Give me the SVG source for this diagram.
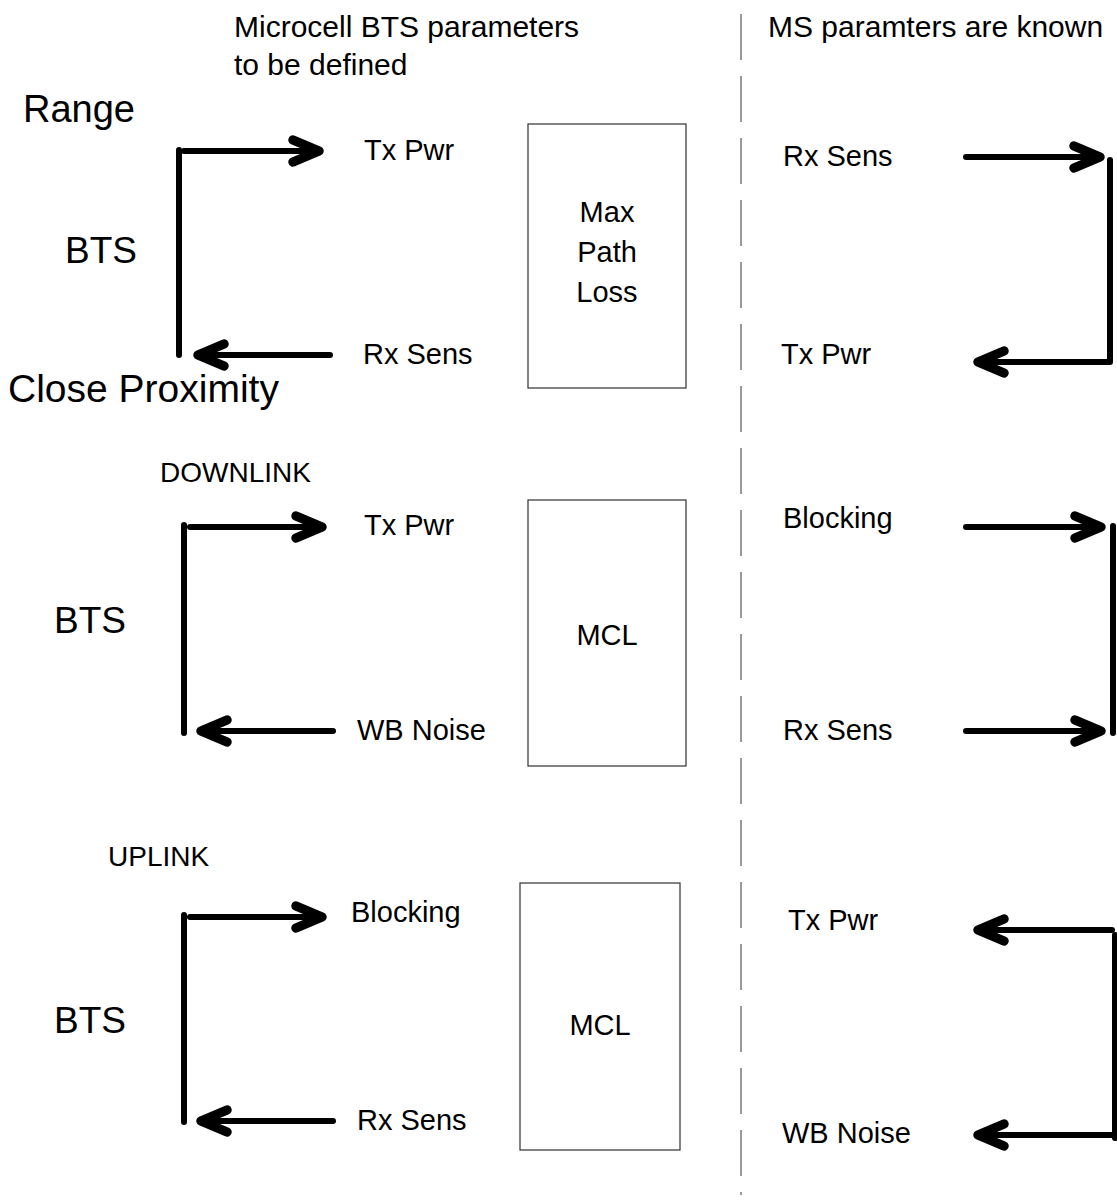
<svg xmlns="http://www.w3.org/2000/svg" width="1117" height="1200" viewBox="0 0 1117 1200">
<style>
text{font-family:"Liberation Sans",Arial,sans-serif;fill:#000}
.big{font-size:38px}
.bts{font-size:37px}
.med{font-size:29px}
.hdr{font-size:30px}
.sm{font-size:28px}
.box{fill:#fff;stroke:#404040;stroke-width:1.3}
.ln{fill:none;stroke:#000;stroke-width:6;stroke-linecap:round;stroke-linejoin:round}
.hd{fill:none;stroke:#000;stroke-width:9.5;stroke-linecap:round;stroke-linejoin:round}
.dash{fill:none;stroke:#808080;stroke-width:1.6;stroke-dasharray:46 16}
</style>
<rect width="1117" height="1200" fill="#fff"/>
<g id="headers">
<text class="hdr" x="234" y="37">Microcell BTS parameters</text>
<text class="hdr" x="234" y="75">to be defined</text>
<text class="hdr" x="768" y="37">MS paramters are known</text>
<text class="big" x="23" y="122">Range</text>
<text class="big" x="8" y="402" style="font-size:39px">Close Proximity</text>
<text class="sm" x="160" y="482">DOWNLINK</text>
<text class="sm" x="108" y="866">UPLINK</text>
</g>
<path class="dash" d="M741 14V1195"/>
<g id="bts1"><text class="bts" x="65" y="263">BTS</text></g>
<g id="bts2"><text class="bts" x="54" y="633">BTS</text></g>
<g id="bts3"><text class="bts" x="54" y="1033">BTS</text></g>
<g id="box1">
<rect class="box" x="528" y="124" width="158" height="264"/>
<text class="med" x="607" y="222" text-anchor="middle">Max</text>
<text class="med" x="607" y="262" text-anchor="middle">Path</text>
<text class="med" x="607" y="302" text-anchor="middle">Loss</text>
</g>
<g id="box2">
<rect class="box" x="528" y="500" width="158" height="266"/>
<text class="med" x="607" y="645" text-anchor="middle">MCL</text>
</g>
<g id="box3">
<rect class="box" x="520" y="883" width="160" height="267"/>
<text class="med" x="600" y="1035" text-anchor="middle">MCL</text>
</g>
<g id="labels">
<text class="med" x="364" y="160">Tx Pwr</text>
<text class="med" x="363" y="364">Rx Sens</text>
<text class="med" x="783" y="166">Rx Sens</text>
<text class="med" x="781" y="364">Tx Pwr</text>
<text class="med" x="364" y="535">Tx Pwr</text>
<text class="med" x="357" y="740">WB Noise</text>
<text class="med" x="783" y="528">Blocking</text>
<text class="med" x="783" y="740">Rx Sens</text>
<text class="med" x="351" y="922">Blocking</text>
<text class="med" x="357" y="1130">Rx Sens</text>
<text class="med" x="788" y="930">Tx Pwr</text>
<text class="med" x="782" y="1143">WB Noise</text>
</g>
<g id="connectors">
<path class="ln" d="M179 150V355"/>
<path class="ln" d="M184 151H316"/><path class="hd" d="M293 140L319 151L293 162"/>
<path class="ln" d="M330 355H202"/><path class="hd" d="M224 344L198 355L224 366"/>
<path class="ln" d="M966 157H1096"/><path class="hd" d="M1074 146L1100 157L1074 168"/>
<path class="ln" d="M1110 160V362H982"/><path class="hd" d="M1004 351L978 362L1004 373"/>
<path class="ln" d="M184 525V733"/>
<path class="ln" d="M190 527H318"/><path class="hd" d="M296 516L322 527L296 538"/>
<path class="ln" d="M333 731H204"/><path class="hd" d="M227 720L201 731L227 742"/>
<path class="ln" d="M966 527H1098"/><path class="hd" d="M1075 516L1101 527L1075 538"/>
<path class="ln" d="M966 731H1098"/><path class="hd" d="M1075 720L1101 731L1075 742"/>
<path class="ln" d="M1113 526V733"/>
<path class="ln" d="M184 915V1122"/>
<path class="ln" d="M190 917H318"/><path class="hd" d="M296 906L322 917L296 928"/>
<path class="ln" d="M333 1121H204"/><path class="hd" d="M227 1110L201 1121L227 1132"/>
<path class="ln" d="M1112 930H982"/><path class="hd" d="M1004 919L978 930L1004 941"/>
<path class="ln" d="M1115 935V1138"/>
<path class="ln" d="M1113 1135H982"/><path class="hd" d="M1004 1124L978 1135L1004 1146"/>
</g>
</svg>
